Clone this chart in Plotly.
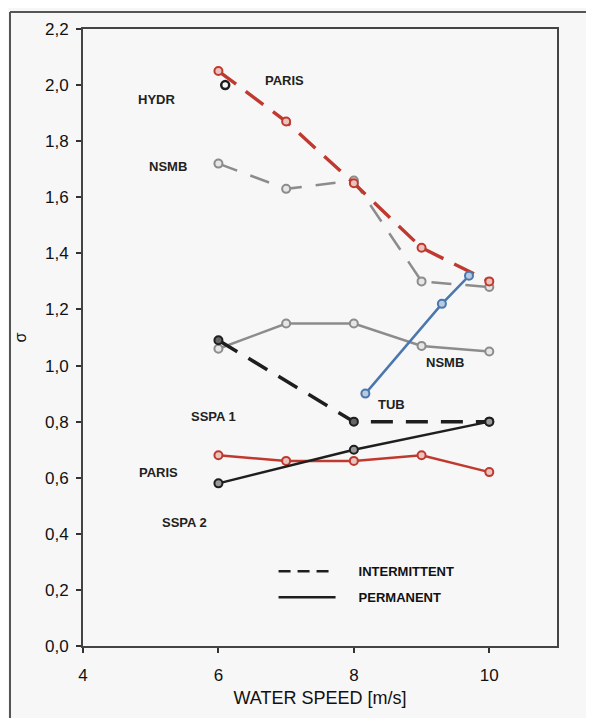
import plotly.graph_objects as go

# ---- data ----
speed5 = [6, 7, 8, 9, 10]
speed3 = [6, 8, 10]

paris_int = [2.05, 1.87, 1.65, 1.42, 1.30]
nsmb_int = [1.72, 1.63, 1.66, 1.30, 1.28]
nsmb_perm = [1.06, 1.15, 1.15, 1.07, 1.05]
paris_perm = [0.68, 0.66, 0.66, 0.68, 0.62]
sspa1_int = [1.09, 0.80, 0.80]
sspa2_perm = [0.58, 0.70, 0.80]
tub_speed = [8.17, 9.30, 9.70]
tub_perm = [0.90, 1.22, 1.32]
hydr_speed = [6.1]
hydr_sigma = [2.0]

label_text = ["HYDR", "PARIS", "NSMB", "NSMB", "TUB", "SSPA 1", "PARIS", "SSPA 2"]
label_x = [5.09, 6.98, 5.26, 9.35, 8.55, 5.92, 5.12, 5.50]
label_y = [1.95, 2.015, 1.71, 1.01, 0.86, 0.82, 0.62, 0.44]

x_ticks = [4, 6, 8, 10]
y_ticks = [0.0, 0.2, 0.4, 0.6, 0.8, 1.0, 1.2, 1.4, 1.6, 1.8, 2.0, 2.2]

RED = "#c0392f"
GRAY = "#8c8c8c"
BLACK = "#1e1e1e"
BLUE = "#4a77ae"
BG = "#f7f7f7"
FONT = "Liberation Sans, Arial"

fig = go.Figure()


def add(x, y, color, dash, width, fill):
    fig.add_trace(go.Scatter(
        x=x, y=y, mode="lines+markers", showlegend=False,
        line=dict(color=color, width=width, dash=dash),
        marker=dict(symbol="circle", size=8, color=fill,
                    line=dict(color=color, width=2)),
    ))


add(speed5, nsmb_int, GRAY, "20px,14px", 2.5, "#e6e6e6")
add(speed5, nsmb_perm, GRAY, "solid", 2.5, "#e6e6e6")
add(speed5, paris_int, RED, "22px,12px", 3.4, "#e8c4bf")
add(speed5, paris_perm, RED, "solid", 2.5, "#e8c4bf")
add(speed3, sspa1_int, BLACK, "22px,13px", 3.5, "#666666")
add(speed3, sspa2_perm, BLACK, "solid", 2.5, "#9a9a9a")
add(tub_speed, tub_perm, BLUE, "solid", 2.5, "#b8c9e0")

fig.add_trace(go.Scatter(
    x=hydr_speed, y=hydr_sigma, mode="markers", showlegend=False,
    marker=dict(symbol="circle-open", size=8, color=BLACK, line=dict(width=2.5)),
))

# legend entries
GAP = "\u00a0" * 5
fig.add_trace(go.Scatter(x=[None], y=[None], mode="lines", name=GAP + "<b>INTERMITTENT</b>",
                         legendgroup="a",
                         line=dict(color=BLACK, width=2.5, dash="12px,7px")))
fig.add_trace(go.Scatter(x=[None], y=[None], mode="lines", name=GAP + "<b>PERMANENT</b>",
                         legendgroup="b",
                         line=dict(color=BLACK, width=2.5)))

for t, x, y in zip(label_text, label_x, label_y):
    fig.add_annotation(x=x, y=y, text="<b>" + t + "</b>", showarrow=False,
                       font=dict(family=FONT, size=13, color="#222"))

# outer frame (top and left edges of the scanned box)
fig.add_shape(type="line", xref="paper", yref="paper", x0=-0.154, x1=1.2,
              y0=1.0275, y1=1.0275, line=dict(color="#555", width=2))
fig.add_shape(type="line", xref="paper", yref="paper", x0=-0.154, x1=-0.154,
              y0=1.0275, y1=-0.2, line=dict(color="#555", width=2))

fig.update_layout(
    width=594, height=718,
    margin=dict(l=75, r=45, t=19, b=80),
    paper_bgcolor=BG, plot_bgcolor=BG,
    separators=", ",
    font=dict(family=FONT, color="#111"),
    legend=dict(x=0.402, y=0.10, xanchor="left", yanchor="middle",
                bgcolor="rgba(0,0,0,0)", font=dict(size=13),
                itemwidth=57, tracegroupgap=6),
    xaxis=dict(range=[4, 11], tickvals=x_ticks, ticks="outside", ticklen=5,
               tickwidth=1.5, tickcolor="#333", showgrid=False, zeroline=False,
               showline=True, linecolor="#444", linewidth=2, mirror=True,
               tickfont=dict(size=17), ticklabelstandoff=8,
               title=dict(text="WATER SPEED [m/s]", font=dict(size=18), standoff=7)),
    yaxis=dict(range=[0, 2.2], tickvals=y_ticks, tickformat=".1f", ticks="outside",
               ticklen=5, tickwidth=1.5, tickcolor="#333", showgrid=False,
               zeroline=False, showline=True, linecolor="#444", linewidth=2,
               mirror=True, tickfont=dict(size=17), ticklabelstandoff=4,
               title=dict(text="σ", font=dict(size=16), standoff=14)),
)

fig.write_html("out.html")
